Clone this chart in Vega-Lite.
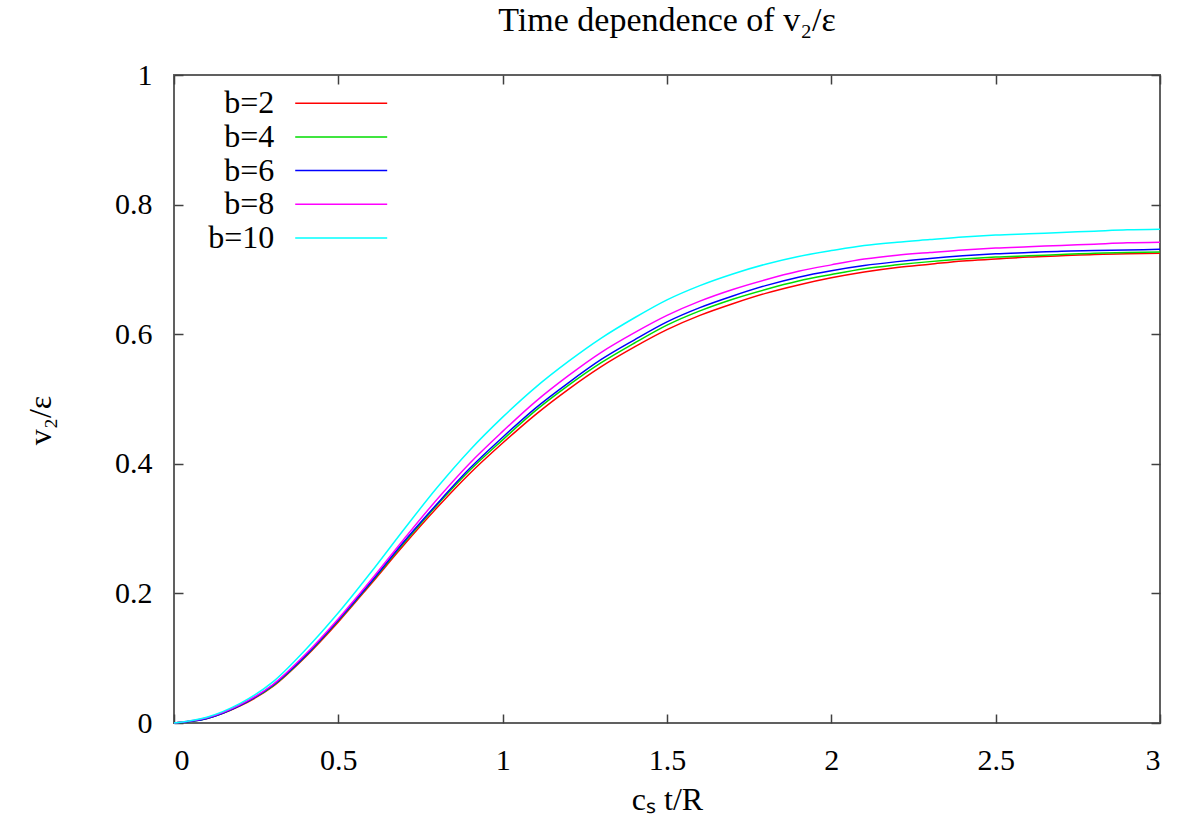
{
  "$schema": "https://vega.github.io/schema/vega-lite/v6.json",
  "autosize": "none",
  "width": 986,
  "height": 648,
  "padding": {"left": 174, "top": 75, "right": 42, "bottom": 103},
  "background": "white",
  "config": {
    "view": {"stroke": "#606060", "strokeWidth": 2},
    "font": "Liberation Serif"
  },
  "title": {
    "text": "Time dependence of v₂/ε",
    "font": "Liberation Serif",
    "fontSize": 34,
    "fontWeight": "normal",
    "color": "black",
    "anchor": "middle",
    "offset": 22
  },
  "data": {"values": [
    {"b":"b=2","t":0,"v":0},{"b":"b=2","t":0.1,"v":0.007},{"b":"b=2","t":0.2,"v":0.026},{"b":"b=2","t":0.3,"v":0.056},{"b":"b=2","t":0.4,"v":0.102},{"b":"b=2","t":0.5,"v":0.156},{"b":"b=2","t":0.6,"v":0.215},{"b":"b=2","t":0.7,"v":0.275},{"b":"b=2","t":0.8,"v":0.332},{"b":"b=2","t":0.9,"v":0.385},{"b":"b=2","t":1.0,"v":0.432},{"b":"b=2","t":1.1,"v":0.476},{"b":"b=2","t":1.2,"v":0.515},{"b":"b=2","t":1.3,"v":0.550},{"b":"b=2","t":1.4,"v":0.580},{"b":"b=2","t":1.5,"v":0.607},{"b":"b=2","t":1.6,"v":0.629},{"b":"b=2","t":1.7,"v":0.647},{"b":"b=2","t":1.8,"v":0.663},{"b":"b=2","t":1.9,"v":0.676},{"b":"b=2","t":2.0,"v":0.687},{"b":"b=2","t":2.1,"v":0.696},{"b":"b=2","t":2.2,"v":0.703},{"b":"b=2","t":2.3,"v":0.708},{"b":"b=2","t":2.4,"v":0.713},{"b":"b=2","t":2.5,"v":0.716},{"b":"b=2","t":2.6,"v":0.719},{"b":"b=2","t":2.7,"v":0.721},{"b":"b=2","t":2.8,"v":0.723},{"b":"b=2","t":2.9,"v":0.724},{"b":"b=2","t":3.0,"v":0.725},
    {"b":"b=4","t":0,"v":0},{"b":"b=4","t":0.1,"v":0.007},{"b":"b=4","t":0.2,"v":0.027},{"b":"b=4","t":0.3,"v":0.057},{"b":"b=4","t":0.4,"v":0.103},{"b":"b=4","t":0.5,"v":0.158},{"b":"b=4","t":0.6,"v":0.217},{"b":"b=4","t":0.7,"v":0.278},{"b":"b=4","t":0.8,"v":0.336},{"b":"b=4","t":0.9,"v":0.390},{"b":"b=4","t":1.0,"v":0.437},{"b":"b=4","t":1.1,"v":0.482},{"b":"b=4","t":1.2,"v":0.521},{"b":"b=4","t":1.3,"v":0.556},{"b":"b=4","t":1.4,"v":0.586},{"b":"b=4","t":1.5,"v":0.614},{"b":"b=4","t":1.6,"v":0.636},{"b":"b=4","t":1.7,"v":0.654},{"b":"b=4","t":1.8,"v":0.669},{"b":"b=4","t":1.9,"v":0.682},{"b":"b=4","t":2.0,"v":0.692},{"b":"b=4","t":2.1,"v":0.701},{"b":"b=4","t":2.2,"v":0.707},{"b":"b=4","t":2.3,"v":0.712},{"b":"b=4","t":2.4,"v":0.716},{"b":"b=4","t":2.5,"v":0.719},{"b":"b=4","t":2.6,"v":0.721},{"b":"b=4","t":2.7,"v":0.723},{"b":"b=4","t":2.8,"v":0.725},{"b":"b=4","t":2.9,"v":0.726},{"b":"b=4","t":3.0,"v":0.727},
    {"b":"b=6","t":0,"v":0},{"b":"b=6","t":0.1,"v":0.007},{"b":"b=6","t":0.2,"v":0.027},{"b":"b=6","t":0.3,"v":0.058},{"b":"b=6","t":0.4,"v":0.104},{"b":"b=6","t":0.5,"v":0.159},{"b":"b=6","t":0.6,"v":0.218},{"b":"b=6","t":0.7,"v":0.280},{"b":"b=6","t":0.8,"v":0.338},{"b":"b=6","t":0.9,"v":0.393},{"b":"b=6","t":1.0,"v":0.441},{"b":"b=6","t":1.1,"v":0.486},{"b":"b=6","t":1.2,"v":0.525},{"b":"b=6","t":1.3,"v":0.561},{"b":"b=6","t":1.4,"v":0.591},{"b":"b=6","t":1.5,"v":0.619},{"b":"b=6","t":1.6,"v":0.641},{"b":"b=6","t":1.7,"v":0.659},{"b":"b=6","t":1.8,"v":0.675},{"b":"b=6","t":1.9,"v":0.688},{"b":"b=6","t":2.0,"v":0.698},{"b":"b=6","t":2.1,"v":0.706},{"b":"b=6","t":2.2,"v":0.712},{"b":"b=6","t":2.3,"v":0.717},{"b":"b=6","t":2.4,"v":0.721},{"b":"b=6","t":2.5,"v":0.724},{"b":"b=6","t":2.6,"v":0.726},{"b":"b=6","t":2.7,"v":0.728},{"b":"b=6","t":2.8,"v":0.729},{"b":"b=6","t":2.9,"v":0.730},{"b":"b=6","t":3.0,"v":0.731},
    {"b":"b=8","t":0,"v":0},{"b":"b=8","t":0.1,"v":0.008},{"b":"b=8","t":0.2,"v":0.028},{"b":"b=8","t":0.3,"v":0.059},{"b":"b=8","t":0.4,"v":0.106},{"b":"b=8","t":0.5,"v":0.161},{"b":"b=8","t":0.6,"v":0.221},{"b":"b=8","t":0.7,"v":0.284},{"b":"b=8","t":0.8,"v":0.345},{"b":"b=8","t":0.9,"v":0.401},{"b":"b=8","t":1.0,"v":0.450},{"b":"b=8","t":1.1,"v":0.496},{"b":"b=8","t":1.2,"v":0.536},{"b":"b=8","t":1.3,"v":0.572},{"b":"b=8","t":1.4,"v":0.602},{"b":"b=8","t":1.5,"v":0.629},{"b":"b=8","t":1.6,"v":0.651},{"b":"b=8","t":1.7,"v":0.669},{"b":"b=8","t":1.8,"v":0.684},{"b":"b=8","t":1.9,"v":0.697},{"b":"b=8","t":2.0,"v":0.707},{"b":"b=8","t":2.1,"v":0.716},{"b":"b=8","t":2.2,"v":0.722},{"b":"b=8","t":2.3,"v":0.726},{"b":"b=8","t":2.4,"v":0.730},{"b":"b=8","t":2.5,"v":0.733},{"b":"b=8","t":2.6,"v":0.735},{"b":"b=8","t":2.7,"v":0.737},{"b":"b=8","t":2.8,"v":0.739},{"b":"b=8","t":2.9,"v":0.741},{"b":"b=8","t":3.0,"v":0.742},
    {"b":"b=10","t":0,"v":0},{"b":"b=10","t":0.1,"v":0.009},{"b":"b=10","t":0.2,"v":0.030},{"b":"b=10","t":0.3,"v":0.063},{"b":"b=10","t":0.4,"v":0.113},{"b":"b=10","t":0.5,"v":0.170},{"b":"b=10","t":0.6,"v":0.233},{"b":"b=10","t":0.7,"v":0.299},{"b":"b=10","t":0.8,"v":0.363},{"b":"b=10","t":0.9,"v":0.421},{"b":"b=10","t":1.0,"v":0.472},{"b":"b=10","t":1.1,"v":0.518},{"b":"b=10","t":1.2,"v":0.558},{"b":"b=10","t":1.3,"v":0.594},{"b":"b=10","t":1.4,"v":0.625},{"b":"b=10","t":1.5,"v":0.653},{"b":"b=10","t":1.6,"v":0.675},{"b":"b=10","t":1.7,"v":0.693},{"b":"b=10","t":1.8,"v":0.708},{"b":"b=10","t":1.9,"v":0.720},{"b":"b=10","t":2.0,"v":0.729},{"b":"b=10","t":2.1,"v":0.737},{"b":"b=10","t":2.2,"v":0.742},{"b":"b=10","t":2.3,"v":0.746},{"b":"b=10","t":2.4,"v":0.750},{"b":"b=10","t":2.5,"v":0.753},{"b":"b=10","t":2.6,"v":0.755},{"b":"b=10","t":2.7,"v":0.757},{"b":"b=10","t":2.8,"v":0.759},{"b":"b=10","t":2.9,"v":0.761},{"b":"b=10","t":3.0,"v":0.762}
  ]},
  "resolve": {"axis": {"x": "independent", "y": "independent"}},
  "layer": [
    {
      "mark": {"type": "line", "strokeWidth": 1.5, "interpolate": "monotone"},
      "encoding": {
        "x": {"field": "t", "type": "quantitative", "scale": {"domain": [0, 3], "nice": false},
          "axis": {"orient": "bottom", "values": [0, 0.5, 1, 1.5, 2, 2.5, 3], "format": "~g", "grid": false, "domain": false,
            "tickSize": -9, "tickColor": "#404040", "tickWidth": 1.5, "labelPadding": 31,
            "labelFont": "Liberation Serif", "labelFontSize": 30, "labelColor": "black",
            "title": "cₛ t/R", "titleFont": "Liberation Serif", "titleFontSize": 32, "titleFontWeight": "normal", "titleColor": "black",
            "titleY": 61, "titleBaseline": "top"}},
        "y": {"field": "v", "type": "quantitative", "scale": {"domain": [0, 1], "nice": false},
          "axis": {"orient": "left", "values": [0, 0.2, 0.4, 0.6, 0.8, 1], "format": "~g", "grid": false, "domain": false,
            "tickSize": -9, "tickColor": "#404040", "tickWidth": 1.5, "labelPadding": 31,
            "labelFont": "Liberation Serif", "labelFontSize": 30, "labelColor": "black",
            "title": "v₂/ε", "titleFont": "Liberation Serif", "titleFontSize": 32, "titleFontWeight": "normal", "titleColor": "black",
            "titleX": -134, "titleY": 345, "titleAngle": -90, "titleAlign": "center", "titleBaseline": "middle"}},
        "color": {"field": "b", "type": "nominal",
          "scale": {"domain": ["b=2", "b=4", "b=6", "b=8", "b=10"], "range": ["#ff0000", "#00dd00", "#0000ff", "#ff00ff", "#00ffff"]},
          "legend": {"orient": "none", "legendX": 150.7, "legendY": 11.7, "title": null, "padding": 0,
            "symbolType": "M-3,0H3", "symbolSize": 940, "symbolStrokeWidth": 1.5, "rowPadding": 0.7,
            "labelAlign": "right", "labelOffset": -83.4, "labelFont": "Liberation Serif", "labelFontSize": 32, "labelColor": "black", "labelLimit": 200}}
      }
    },
    {
      "mark": {"type": "line", "strokeOpacity": 0},
      "encoding": {
        "x": {"field": "t", "type": "quantitative",
          "axis": {"orient": "top", "values": [0, 0.5, 1, 1.5, 2, 2.5, 3], "grid": false, "domain": false, "labels": false,
            "tickSize": -9, "tickColor": "#404040", "tickWidth": 1.5, "title": null}},
        "y": {"field": "v", "type": "quantitative",
          "axis": {"orient": "right", "values": [0, 0.2, 0.4, 0.6, 0.8, 1], "grid": false, "domain": false, "labels": false,
            "tickSize": -9, "tickColor": "#404040", "tickWidth": 1.5, "title": null}},
        "detail": {"field": "b"}
      }
    }
  ]
}
